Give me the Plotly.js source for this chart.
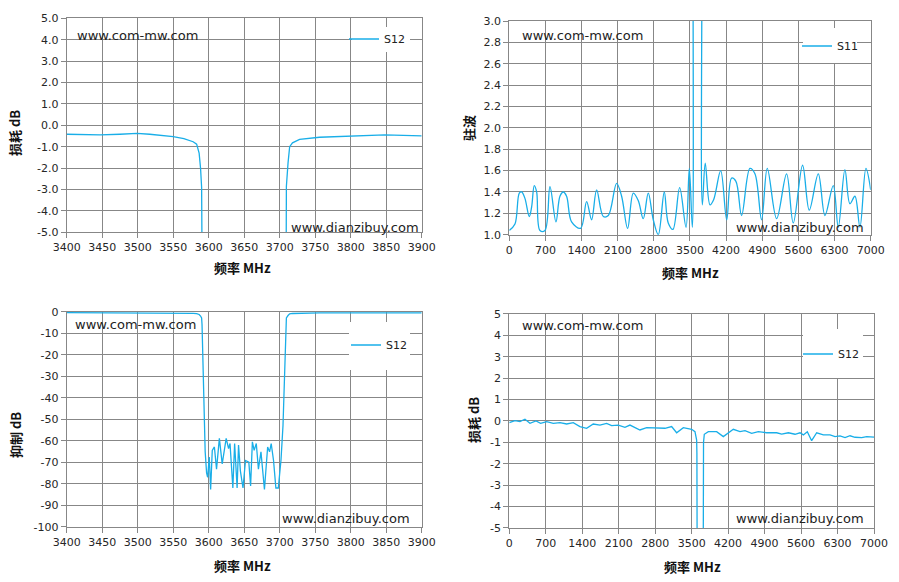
<!DOCTYPE html>
<html>
<head>
<meta charset="utf-8">
<script src="https://cdn.plot.ly/plotly-3.0.1.min.js"></script>
<style>
  html, body { margin: 0; padding: 0; background: #fff; }
  #chart { width: 899px; height: 582px; }
</style>
</head>
<body>
<div id="chart"></div>
<script>
// S12 around the notch, 3400-3900 MHz (used for both left charts)
var freqNarrow = [3400, 3425, 3447, 3475, 3499, 3517, 3535, 3550, 3565, 3578, 3583, 3586.5, 3588.5, 3590, 3590.6, 3592, 3593.2, 3595, 3597,
  3598.5, 3600.8, 3602.7, 3605, 3608, 3611, 3615, 3619, 3624.6, 3628, 3630, 3634, 3636.5, 3640, 3642, 3644.6, 3648.3, 3651.8,
  3656.5, 3659, 3661.5, 3664, 3667, 3670, 3673.6, 3678.5, 3683, 3685.7, 3688, 3691.3, 3694.6, 3698,
  3701.8, 3704.6, 3706.5, 3708, 3708.6, 3709.4, 3711.7, 3714, 3718, 3728, 3756, 3776, 3800, 3848, 3900];
var s12Narrow = [-0.42, -0.44, -0.45, -0.42, -0.38, -0.42, -0.47, -0.53, -0.62, -0.77, -0.88, -1.3, -2.0, -2.9, -6, -25, -48, -65, -75,
  -77, -67.6, -82.7, -64.5, -62.9, -73.2, -58.9, -70.8, -58.9, -63.7, -61.3, -82, -61.3, -82, -62, -74, -82, -69.2,
  -70, -81, -60.5, -64.5, -61.3, -73.2, -65.2, -82.7, -62.9, -65.2, -61.3, -69.2, -82, -82,
  -69, -53, -32, -12, -5.5, -2.85, -1.77, -1.0, -0.82, -0.66, -0.56, -0.53, -0.52, -0.45, -0.5];

// S11 as VSWR, 0-7000 MHz
var freqS11 = [0, 110, 194, 240, 303, 387, 433, 484, 530, 594, 691, 788, 904, 981, 1046, 1110, 1207, 1382, 1498, 1594, 1692,
  1821, 1918, 2079, 2176, 2292, 2402, 2498, 2595, 2692, 2789, 2886, 3002, 3079, 3170, 3300, 3423, 3487, 3545,
  3558, 3650, 3738, 3740, 3796, 3888, 3960, 4095, 4211, 4306, 4390, 4500, 4661, 4758, 4887, 4997, 5178, 5371, 5500,
  5681, 5810, 5985, 6114, 6275, 6372, 6501, 6598, 6695, 6792, 6908, 7000];
var vswrS11 = [1.04, 1.1, 1.39, 1.4, 1.34, 1.17, 1.26, 1.46, 1.4, 1.04, 1.04, 1.45, 1.12, 1.36, 1.4, 1.36, 1.12, 1.06, 1.31, 1.14, 1.42,
  1.17, 1.18, 1.48, 1.36, 1.06, 1.39, 1.32, 1.15, 1.39, 1.14, 1.0, 1.4, 1.11, 1.05, 1.44, 1.07, 1.62, 1.07,
  5.0, 30.0, 5.0, 1.28, 1.67, 1.28, 1.33, 1.6, 1.14, 1.53, 1.5, 1.18, 1.62, 1.57, 1.14, 1.62, 1.15, 1.57, 1.11,
  1.65, 1.23, 1.57, 1.18, 1.46, 1.07, 1.61, 1.29, 1.36, 1.07, 1.62, 1.42];

// S12 wideband, 0-7000 MHz
var freqS12 = [0, 109, 205, 301, 397, 512, 601, 717, 845, 973, 1101, 1228, 1356, 1484, 1612, 1740, 1868, 1964, 2092, 2220,
  2316, 2508, 2636, 2828, 2988, 3116, 3212, 3340, 3500, 3564, 3596, 3601, 3605, 3608, 3720, 3723, 3728, 3743,
  3820, 3980, 4108, 4300, 4428, 4524, 4652, 4780, 4940, 5132, 5228, 5356, 5484, 5580, 5644, 5720, 5803, 5900,
  6028, 6156, 6252, 6348, 6444, 6540, 6636, 6764, 6860, 7000];
var s12Wide = [-0.08, 0.02, -0.03, 0.08, -0.11, 0, -0.11, -0.03, -0.11, -0.08, -0.14, -0.08, -0.26, -0.34, -0.14, -0.19, -0.11, -0.22, -0.19, -0.3,
  -0.19, -0.42, -0.31, -0.31, -0.34, -0.26, -0.55, -0.31, -0.39, -0.5, -0.89, -1.5, -3.5, -9, -9, -3.5, -1.0, -0.62,
  -0.5, -0.5, -0.73, -0.39, -0.5, -0.45, -0.58, -0.5, -0.55, -0.55, -0.61, -0.55, -0.62, -0.55, -0.65, -0.5, -0.92, -0.55,
  -0.65, -0.65, -0.73, -0.7, -0.78, -0.69, -0.76, -0.78, -0.73, -0.75];

// tick values and labels
var tickNarrowX = [3400, 3450, 3500, 3550, 3600, 3650, 3700, 3750, 3800, 3850, 3900];
var tickWideX = [0, 700, 1400, 2100, 2800, 3500, 4200, 4900, 5600, 6300, 7000];
var tickLossVals = [5, 4, 3, 2, 1, 0, -1, -2, -3, -4, -5];
var tickLossText1 = ['5.0', '4.0', '3.0', '2.0', '1.0', '0.0', '-1.0', '-2.0', '-3.0', '-4.0', '-5.0'];
var tickLossText2 = ['5', '4', '3', '2', '1', '0', '-1', '-2', '-3', '-4', '-5'];
var tickVswrVals = [1.0, 1.2, 1.4, 1.6, 1.8, 2.0, 2.2, 2.4, 2.6, 2.8, 3.0];
var tickVswrText = ['1.0', '1.2', '1.4', '1.6', '1.8', '2.0', '2.2', '2.4', '2.6', '2.8', '3.0'];
var tickRejVals = [0, -10, -20, -30, -40, -50, -60, -70, -80, -90, -100];
var tickRejText = ['0', '-10', '-20', '-30', '-40', '-50', '-60', '-70', '-80', '-90', '-100'];

var lineColor = '#19aee8';
var gridColor = '#878787';
var W = 899, H = 582;

function axis(domain, anchor, range, vals, text) {
    return {
        domain: domain,
        anchor: anchor,
        range: range,
        tickmode: 'array',
        tickvals: vals,
        ticktext: text || vals.map(String),
        showgrid: true,
        gridcolor: gridColor,
        gridwidth: 1,
        zeroline: false,
        showline: true,
        linecolor: gridColor,
        linewidth: 1,
        mirror: true,
        ticks: 'outside',
        ticklen: 5,
        tickcolor: gridColor,
        tickfont: { family: 'DejaVu Sans', size: 11, color: '#262626' },
        fixedrange: true
    };
}

function trace(x, y, xa, ya, lg, name, shape) {
    return {
        type: 'scatter', mode: 'lines', x: x, y: y, xaxis: xa, yaxis: ya,
        name: name, legend: lg,
        line: { color: lineColor, width: 1.3, shape: shape || 'linear' },
        hoverinfo: 'x+y'
    };
}

// place text by pixel position
function label(txt, px, py, opts) {
    return Object.assign({
        text: txt, xref: 'paper', yref: 'paper', x: px / W, y: 1 - py / H,
        showarrow: false, xanchor: 'center', yanchor: 'middle',
        font: { family: 'DejaVu Sans', size: 13, color: '#222' }
    }, opts || {});
}

function legendAt(px, py) {
    return {
        x: px / W, y: 1 - py / H, xanchor: 'left', yanchor: 'middle',
        bgcolor: 'rgba(0,0,0,0)', borderwidth: 0,
        font: { family: 'DejaVu Sans', size: 11, color: '#222' }
    };
}

// white patch behind each legend, in pixels
function whiteBox(x0, x1, y0, y1) {
    return {
        type: 'rect', xref: 'paper', yref: 'paper',
        x0: x0 / W, x1: x1 / W, y0: 1 - y1 / H, y1: 1 - y0 / H, layer: 'above',
        fillcolor: '#fff', line: { width: 0 }
    };
}

var data = [
    trace(freqNarrow, s12Narrow, 'x', 'y', 'legend', 'S12'),
    trace(freqS11, vswrS11, 'x2', 'y2', 'legend2', 'S11', 'spline'),
    trace(freqNarrow, s12Narrow, 'x3', 'y3', 'legend3', 'S12'),
    trace(freqS12, s12Wide, 'x4', 'y4', 'legend4', 'S12')
];

var titleFont = { family: 'Noto Sans CJK SC', size: 13, color: '#111', weight: 'bold' };

var layout = {
    width: W, height: H,
    margin: { l: 0, r: 0, t: 0, b: 0 },
    paper_bgcolor: '#fff',
    plot_bgcolor: '#fff',
    xaxis: axis([0.0742, 0.4691], 'y', [3400, 3900], tickNarrowX),
    yaxis: axis([0.6009, 0.9686], 'x', [-5, 5], tickLossVals, tickLossText1),
    xaxis2: axis([0.5665, 0.9685], 'y2', [0, 7000], tickWideX),
    yaxis2: axis([0.5967, 0.9639], 'x2', [1, 3], tickVswrVals, tickVswrText),
    xaxis3: axis([0.0742, 0.4691], 'y3', [3400, 3900], tickNarrowX),
    yaxis3: axis([0.0950, 0.4644], 'x3', [-100, 0], tickRejVals, tickRejText),
    xaxis4: axis([0.5665, 0.9722], 'y4', [0, 7000], tickWideX),
    yaxis4: axis([0.0928, 0.4605], 'x4', [-5, 5], tickLossVals, tickLossText2),
    legend: legendAt(344, 39),
    legend2: legendAt(797, 46),
    legend3: legendAt(346, 345),
    legend4: legendAt(798, 354),
    shapes: [
        whiteBox(352, 410, 27, 52),
        whiteBox(803, 857, 28, 63),
        whiteBox(349, 410, 322, 370),
        whiteBox(803, 863, 329, 378)
    ],
    annotations: [
        label('www.com-mw.com', 137, 35),
        label('www.dianzibuy.com', 355, 228),
        label('www.com-mw.com', 582, 35),
        label('www.dianzibuy.com', 800, 228),
        label('www.com-mw.com', 135, 324),
        label('www.dianzibuy.com', 346, 518),
        label('www.com-mw.com', 582, 325),
        label('www.dianzibuy.com', 800, 518),
        label('频率 MHz', 243, 268, { font: titleFont }),
        label('频率 MHz', 690, 272, { font: titleFont }),
        label('频率 MHz', 243, 565, { font: titleFont }),
        label('频率 MHz', 692, 566, { font: titleFont }),
        label('损耗 dB', 15, 133, { font: titleFont, textangle: -90 }),
        label('驻波', 468, 128, { font: titleFont, textangle: -90 }),
        label('抑制 dB', 15, 435, { font: titleFont, textangle: -90 }),
        label('损耗 dB', 473, 420, { font: titleFont, textangle: -90 })
    ],
    showlegend: true
};

Plotly.newPlot('chart', data, layout, { displayModeBar: false });
</script>
</body>
</html>
